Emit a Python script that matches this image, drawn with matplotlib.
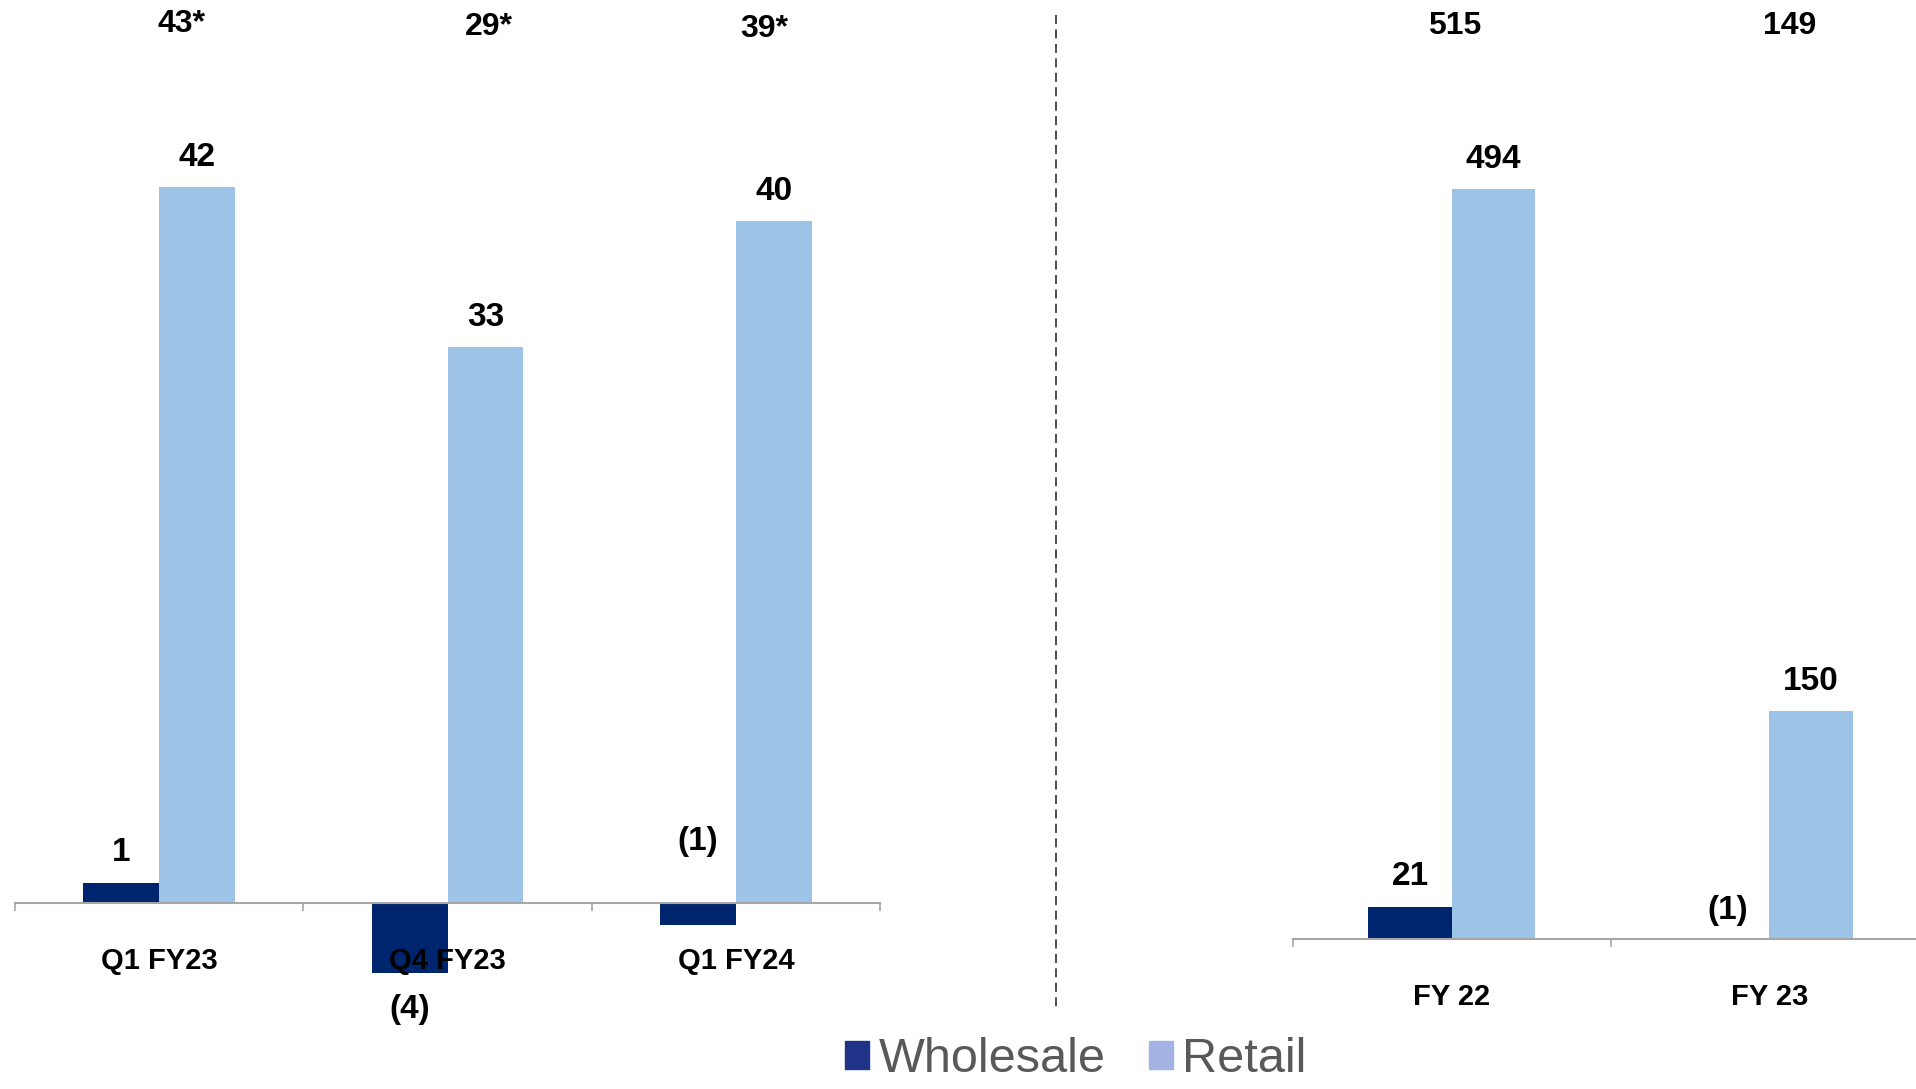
import matplotlib
matplotlib.use("Agg")
import matplotlib.pyplot as plt
from matplotlib.patches import Patch
from matplotlib.lines import Line2D

plt.rcParams.update({"font.family": ["Liberation Sans", "DejaVu Sans"]})

# quarterly panel
q_labels = ["Q1 FY23", "Q4 FY23", "Q1 FY24"]
q_wholesale = [1.2, -4.1, -1.3]
q_retail = [42, 32.6, 40]
q_totals = ["43*", "29*", "39*"]

# annual panel
fy_labels = ["FY 22", "FY 23"]
fy_wholesale = [21, -1]
fy_retail = [494, 150]
fy_totals = ["515", "149"]

C_WS = "#00256F"
C_RT = "#9DC3E6"
AXC = "#A6A6A6"
W, H = 1916, 1089
BW = 0.263


def fmt(v):
    v = round(v)
    return f"({abs(v)})" if v < 0 else f"{v}"


def label(ax, x, v, dy):
    y = v if dy < 0 else max(v, 0)
    ax.annotate(fmt(v), (x, y), xytext=(0, dy), textcoords="offset points",
                ha="center", va="center", fontsize=24, fontweight="bold")


def panel(rect, cats, ws, rt, tots, ylim, ws_dy, tot_y, tot_dx):
    ax = fig.add_axes(rect)
    x = list(range(len(cats)))
    ax.bar([i - BW / 2 for i in x], ws, BW, color=C_WS)
    ax.bar([i + BW / 2 for i in x], rt, BW, color=C_RT)
    ax.set_xlim(-0.5, len(cats) - 0.5)
    ax.set_ylim(*ylim)
    for s in ("left", "right", "top"):
        ax.spines[s].set_visible(False)
    ax.spines["bottom"].set_position(("data", 0))
    ax.spines["bottom"].set_color(AXC)
    ax.spines["bottom"].set_linewidth(1.5)
    ax.set_yticks([])
    ax.set_xticks(x, cats, fontsize=21, fontweight="bold")
    ax.tick_params(axis="x", which="major", length=0, pad=32)
    ax.set_xticks([i - 0.5 for i in range(len(cats) + 1)], minor=True)
    ax.tick_params(axis="x", which="minor", length=6, width=1.2, color=AXC)
    for i in x:
        label(ax, i - BW / 2, ws[i], ws_dy[i])
        label(ax, i + BW / 2, rt[i], 21.5)
        ax.text(i + tot_dx[i], tot_y[i], tots[i], transform=ax.get_xaxis_transform(),
                ha="center", va="center", fontsize=23, fontweight="bold")
    return ax


fig = plt.figure(figsize=(W / 100, H / 100), dpi=100)

panel([15 / W, 0, 865 / W, 1], q_labels, q_wholesale, q_retail, q_totals,
      (-10.91, 52.96), [21.5, -26.5, 44],
      [1 - 24 / H, 1 - 27 / H, 1 - 29 / H], [0.076, 0.144, 0.097])
panel([1293 / W, 0, 635 / W, 1], fy_labels, fy_wholesale, fy_retail, fy_totals,
      (-99.2, 618.9), [21.5, 20],
      [1 - 26 / H, 1 - 26 / H], [0.01, 0.065])

# divider between the two panels
fig.add_artist(Line2D([1056 / W, 1056 / W], [1 - 15 / H, 1 - 1009 / H],
                      transform=fig.transFigure, color="#404040", lw=1.3,
                      ls=(0, (5, 3))))

handles = [Patch(color="#1F3488", label="Wholesale"),
           Patch(color="#A3B3E3", label="Retail")]
fig.legend(handles=handles, loc="center", bbox_to_anchor=(1076 / W, 1 - 1060 / H),
           ncol=2, frameon=False, fontsize=35, labelcolor="#595959",
           handlelength=0.48, handleheight=0.5, handletextpad=0.2,
           columnspacing=0.9, borderpad=0, borderaxespad=0)

fig.savefig("out.png", dpi=100)
